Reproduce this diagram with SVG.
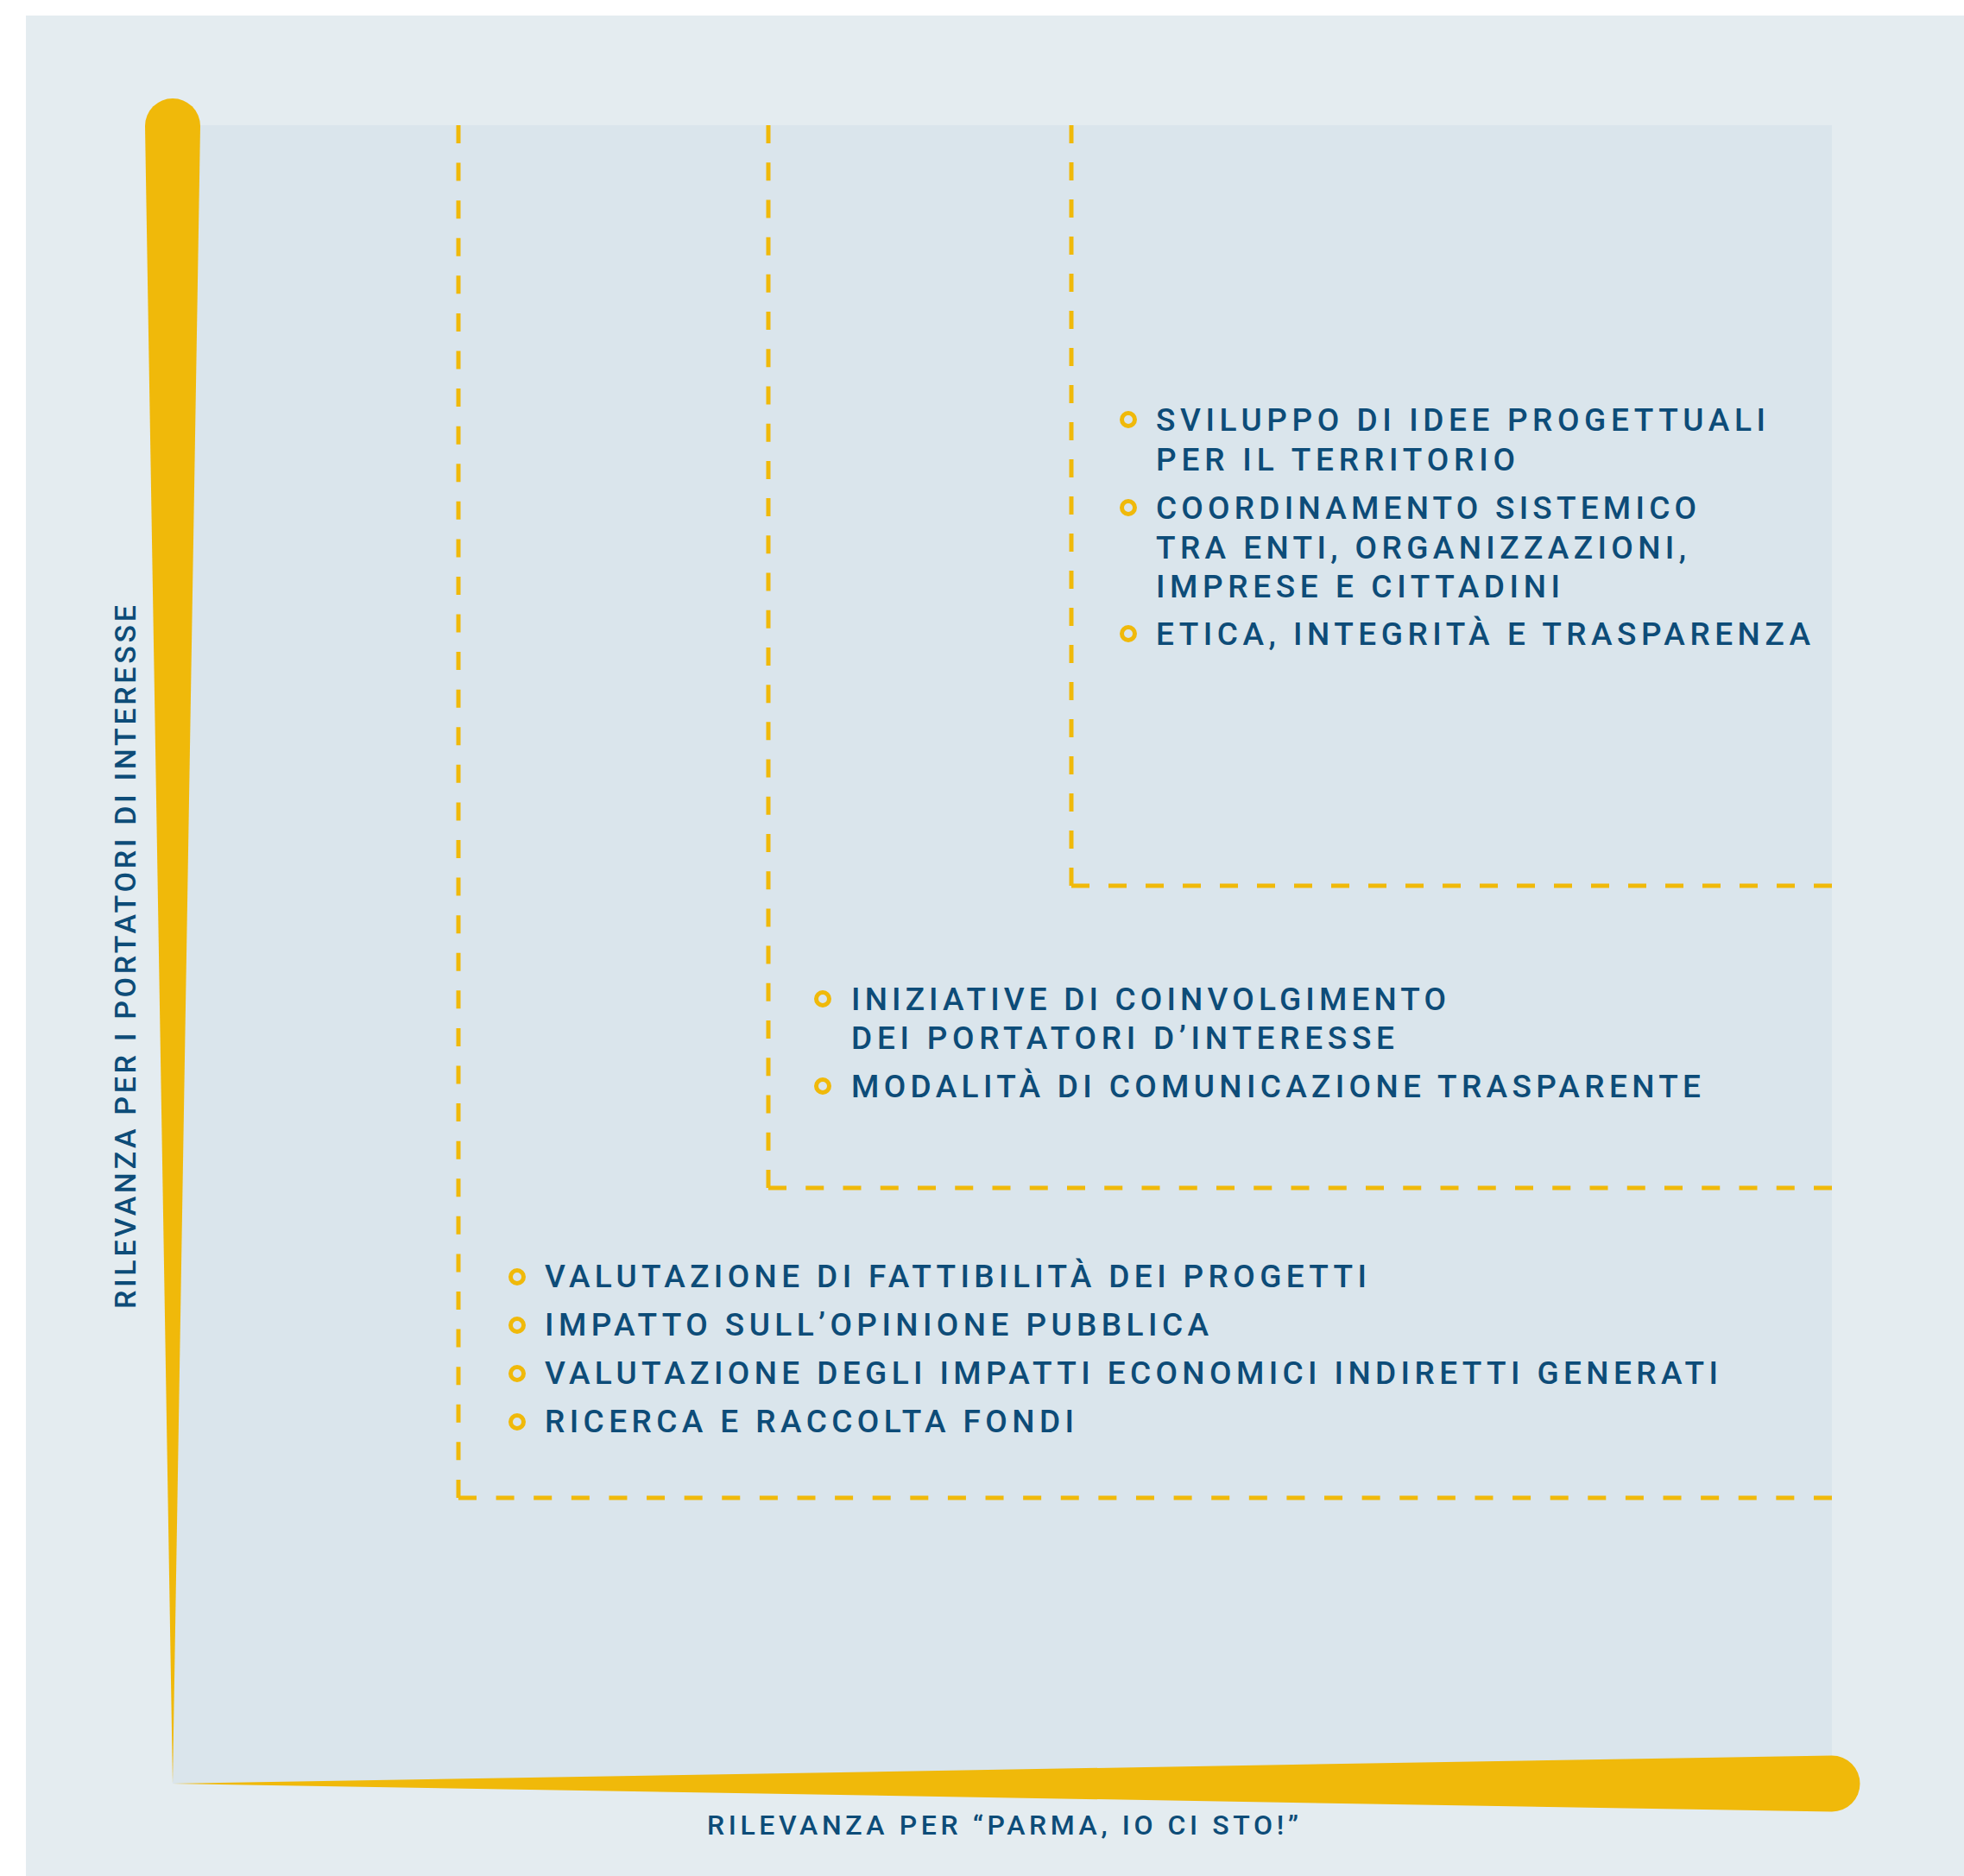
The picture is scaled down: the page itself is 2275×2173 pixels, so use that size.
<svg xmlns="http://www.w3.org/2000/svg" width="2275" height="2173" viewBox="0 0 2275 2173">
  <style>
    .t { font-family: Roboto, "Liberation Sans", "DejaVu Sans", sans-serif; font-weight: 500; font-size: 37px; fill: #0d4c78; }
    .ax { font-family: Roboto, "Liberation Sans", "DejaVu Sans", sans-serif; font-weight: 500; font-size: 32px; fill: #0d4c78; }
    .b { fill: none; stroke: #f0b90a; stroke-width: 5; }
    .d { fill: none; stroke: #f0b90a; stroke-width: 5; }
    .bar { fill: #f0b90a; }
  </style>
  <rect x="0" y="0" width="2275" height="2173" fill="#ffffff"/>
  <rect x="30" y="18" width="2245" height="2155" fill="#e4ecf0"/>
  <rect x="200" y="145" width="1922" height="1921" fill="#dae5ec"/>

  <g id="connectors">
    <path class="d" stroke-dasharray="21 22" d="M1241,145 V1026"/>
    <path class="d" stroke-dasharray="21 22" d="M1241,1026 H2122"/>
    <path class="d" stroke-dasharray="21 22.21" d="M890,145 V1376"/>
    <path class="d" stroke-dasharray="21 22.25" d="M890,1376 H2122"/>
    <path class="d" stroke-dasharray="21 22.58" d="M531,145 V1735"/>
    <path class="d" stroke-dasharray="21 22.61" d="M531,1735 H2122"/>
  </g>

  <g id="axes">
    <path class="bar" d="M168,146 A32,32 0 0 1 232,146 L200,2066 Z"/>
    <path class="bar" d="M200,2066 L2122,2033.5 A32.5,32.5 0 0 1 2122,2098.5 Z"/>
  </g>

  <g id="axis-x-label">
    <text class="ax" x="819" y="2125" textLength="685" lengthAdjust="spacing">RILEVANZA PER “PARMA, IO CI STO!”</text>
  </g>
  <g id="axis-y-label">
    <text class="ax" transform="translate(157,1516) rotate(-90)" x="0" y="0" textLength="815" lengthAdjust="spacing" style="font-size:34px">RILEVANZA PER I PORTATORI DI INTERESSE</text>
  </g>

  <g id="node-high">
    <circle class="b" cx="1307" cy="486" r="7.5"/>
    <text class="t" x="1339" y="499" textLength="706" lengthAdjust="spacing">SVILUPPO DI IDEE PROGETTUALI</text>
    <text class="t" x="1339" y="545" textLength="416" lengthAdjust="spacing">PER IL TERRITORIO</text>
    <circle class="b" cx="1307" cy="588" r="7.5"/>
    <text class="t" x="1339" y="601" textLength="626" lengthAdjust="spacing">COORDINAMENTO SISTEMICO</text>
    <text class="t" x="1339" y="647" textLength="614" lengthAdjust="spacing">TRA ENTI, ORGANIZZAZIONI,</text>
    <text class="t" x="1339" y="692" textLength="468" lengthAdjust="spacing">IMPRESE E CITTADINI</text>
    <circle class="b" cx="1307" cy="734" r="7.5"/>
    <text class="t" x="1339" y="747" textLength="758" lengthAdjust="spacing">ETICA, INTEGRITÀ E TRASPARENZA</text>
  </g>

  <g id="node-medium">
    <circle class="b" cx="953" cy="1157" r="7.5"/>
    <text class="t" x="986" y="1170" textLength="689" lengthAdjust="spacing">INIZIATIVE DI COINVOLGIMENTO</text>
    <text class="t" x="986" y="1215" textLength="629" lengthAdjust="spacing">DEI PORTATORI D’INTERESSE</text>
    <circle class="b" cx="953" cy="1258" r="7.5"/>
    <text class="t" x="986" y="1271" textLength="984" lengthAdjust="spacing">MODALITÀ DI COMUNICAZIONE TRASPARENTE</text>
  </g>

  <g id="node-low">
    <circle class="b" cx="599" cy="1479" r="7.5"/>
    <text class="t" x="631" y="1491" textLength="952" lengthAdjust="spacing">VALUTAZIONE DI FATTIBILITÀ DEI PROGETTI</text>
    <circle class="b" cx="599" cy="1535" r="7.5"/>
    <text class="t" x="631" y="1547" textLength="769" lengthAdjust="spacing">IMPATTO SULL’OPINIONE PUBBLICA</text>
    <circle class="b" cx="599" cy="1591" r="7.5"/>
    <text class="t" x="631" y="1603" textLength="1359" lengthAdjust="spacing">VALUTAZIONE DEGLI IMPATTI ECONOMICI INDIRETTI GENERATI</text>
    <circle class="b" cx="599" cy="1647" r="7.5"/>
    <text class="t" x="631" y="1659" textLength="613" lengthAdjust="spacing">RICERCA E RACCOLTA FONDI</text>
  </g>
</svg>
